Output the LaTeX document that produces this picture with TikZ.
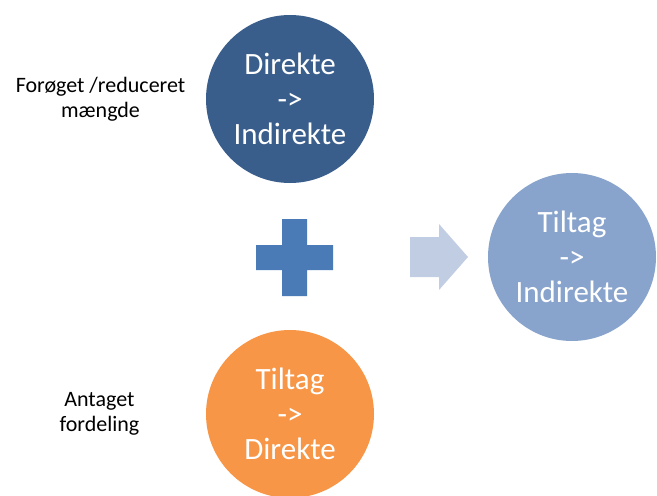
\documentclass[tikz,border=0pt]{standalone}
\usepackage{fontspec}
\setmainfont{Carlito}
\usetikzlibrary{positioning}

\definecolor{darkblue}{RGB}{58,94,140}
\definecolor{plusblue}{RGB}{74,123,183}
\definecolor{paleblue}{RGB}{193,205,227}
\definecolor{softblue}{RGB}{137,164,204}
\definecolor{orange}{RGB}{247,150,70}

\begin{document}
\begin{tikzpicture}[
         x=1pt, y=-1pt,
         bubble/.style={circle, minimum size=168pt, inner sep=0pt, align=center, text=white, font=\fontsize{31}{35}\selectfont},
         note/.style={align=center, font=\fontsize{22}{25}\selectfont}
      ]
         \useasboundingbox (0,0) rectangle (657,496);

         % Circles
         \node[bubble, fill=darkblue] (direkte) at (290,99) {Direkte\\->\\Indirekte};
         \node[bubble, fill=orange] (tiltag) at (290,414) {Tiltag\\->\\Direkte};
         \node[bubble, fill=softblue] (result) at (572,257) {Tiltag\\->\\Indirekte};

         % Notes beside the circles
         \node[note, left=17pt of direkte] (maengde) {Forøget /reduceret\\mængde};
         \node[note, left=63pt of tiltag] (fordeling) {Antaget\\fordeling};

         % Plus sign and arrow
         \fill[plusblue] (282,219) rectangle (307,296) (256,245) rectangle (333,270);
         \fill[paleblue] (410,237) -- (439,237) -- (439,224) -- (468,257)
            -- (439,290) -- (439,277) -- (410,277) -- cycle;

      \end{tikzpicture}
\end{document}
